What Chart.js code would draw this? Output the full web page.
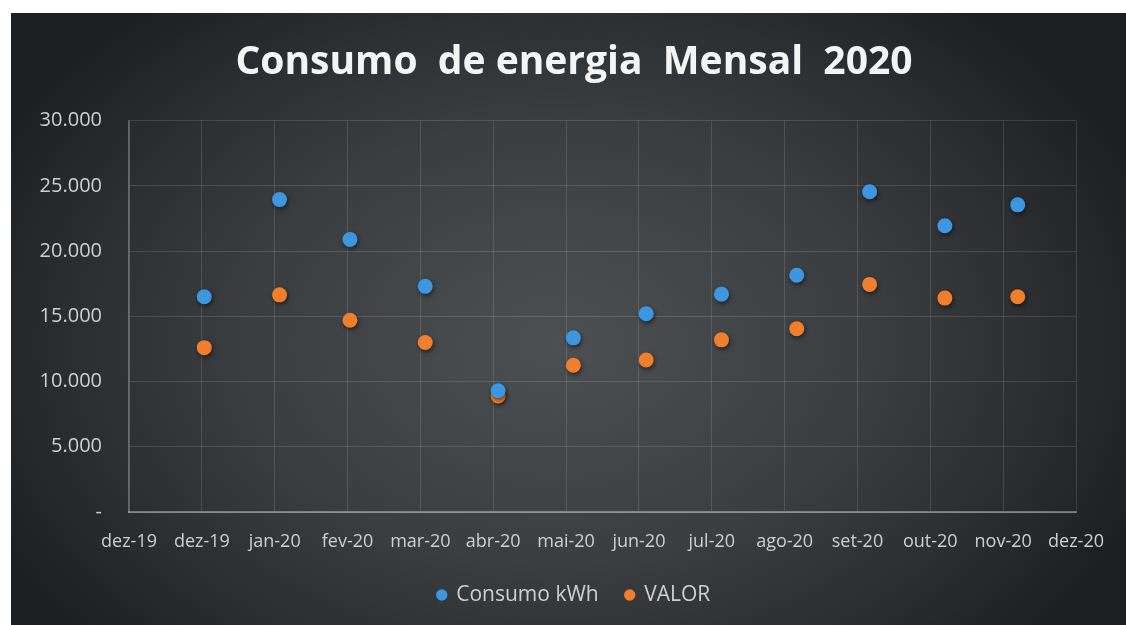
<!DOCTYPE html>
<html>
<head>
<meta charset="utf-8">
<script src="https://cdn.jsdelivr.net/npm/chart.js"></script>
<style>
  body { margin: 0; background: #fff; }
  #painel {
    position: absolute; left: 11px; top: 13px; width: 1115px; height: 612px;
    background: radial-gradient(ellipse 56% 72% at 49% 54%, #4d5053 0%, #3b3e41 50%, #27292c 85%, #1d2023 100%);
  }
</style>
</head>
<body>
<div id="painel"><canvas id="grafico"></canvas></div>
<script>
// datas de leitura (eixo de datas do excel, passo de 30 dias a partir de 01/12/2019)
var inicioEixo = '2019-12-01';
var meses = ['2020-01-01', '2020-02-01', '2020-03-01', '2020-04-01', '2020-05-01', '2020-06-01',
             '2020-07-01', '2020-08-01', '2020-09-01', '2020-10-01', '2020-11-01', '2020-12-01'];
var consumoKwh = [16500, 23950, 20900, 17300, 9300, 13350, 15200, 16700, 18150, 24550, 21950, 23550];
var valor = [12600, 16650, 14700, 13000, 8900, 11250, 11650, 13200, 14050, 17450, 16400, 16500];

var labelsX = ['dez-19', 'dez-19', 'jan-20', 'fev-20', 'mar-20', 'abr-20', 'mai-20',
               'jun-20', 'jul-20', 'ago-20', 'set-20', 'out-20', 'nov-20', 'dez-20'];
var labelsY = ['-', '5.000', '10.000', '15.000', '20.000', '25.000', '30.000'];

const dias = (d) => (Date.parse(d) - Date.parse(inicioEixo)) / 86400000;

const pontos = (serie) => serie.map((v, i) => ({ x: dias(meses[i]), y: v }));

const sombra = {
    id: 'sombra',
    beforeDatasetsDraw(chart) {
        const ctx = chart.ctx;
        ctx.save();
        ctx.shadowColor = 'rgba(0,0,0,0.55)';
        ctx.shadowBlur = 4;
        ctx.shadowOffsetX = 1;
        ctx.shadowOffsetY = 2;
    },
    afterDatasetsDraw(chart) {
        chart.ctx.restore();
    }
};

var grafico = new Chart(document.getElementById('grafico'), {
    type: 'scatter',
    data: {
        datasets: [{
            label: 'Consumo kWh',
            data: pontos(consumoKwh),
            backgroundColor: '#3d96e0',
            borderWidth: 0,
            pointRadius: 7.5,
            pointStyle: 'circle'
        }, {
            label: 'VALOR',
            data: pontos(valor),
            backgroundColor: '#f17e2b',
            borderWidth: 0,
            pointRadius: 7.5,
            pointStyle: 'circle'
        }]
    },
    options: {
        responsive: true,
        maintainAspectRatio: false,
        animation: false,
        layout: { padding: { left: 11, right: 0, top: 0, bottom: 9.5 } },
        plugins: {
            title: {
                display: true,
                text: 'Consumo  de energia  Mensal  2020',
                color: '#f4f4f4',
                font: { family: 'Open Sans', size: 39, weight: 'bold', lineHeight: 1.2 },
                padding: { top: 26.4, bottom: 34.5 }
            },
            legend: {
                position: 'bottom',
                labels: {
                    color: '#cfcfcf',
                    font: { family: 'Open Sans', size: 21 },
                    usePointStyle: true,
                    boxWidth: 8,
                    boxHeight: 8,
                    padding: 27
                }
            },
            tooltip: { enabled: false }
        },
        scales: {
            x: {
                type: 'linear',
                min: 0,
                max: 390,
                afterFit: (scale) => { scale.height = 45.5; },
                ticks: {
                    stepSize: 30,
                    autoSkip: false,
                    maxRotation: 0,
                    padding: 19.5,
                    color: '#cfcfcf',
                    font: { family: 'Open Sans', size: 18 },
                    callback: (v) => labelsX[Math.round(v / 30)]
                },
                grid: { color: 'rgba(255,255,255,0.13)', lineWidth: 1, drawTicks: false },
                border: { color: 'rgba(255,255,255,0.35)', width: 2 }
            },
            y: {
                min: 0,
                max: 30000,
                afterFit: (scale) => { scale.width = 107; },
                ticks: {
                    stepSize: 5000,
                    padding: 27,
                    color: '#cfcfcf',
                    font: { family: 'Open Sans', size: 20 },
                    callback: (v) => labelsY[Math.round(v / 5000)]
                },
                grid: { color: 'rgba(255,255,255,0.13)', lineWidth: 1, drawTicks: false },
                border: { color: 'rgba(255,255,255,0.28)', width: 1.5 }
            },
            // eixo vazio à direita só para reservar a margem do excel
            margemDireita: {
                position: 'right',
                afterFit: (scale) => { scale.width = 50; },
                grid: { display: false },
                ticks: { display: false },
                border: { display: false }
            }
        }
    },
    plugins: [sombra]
});
</script>
</body>
</html>
